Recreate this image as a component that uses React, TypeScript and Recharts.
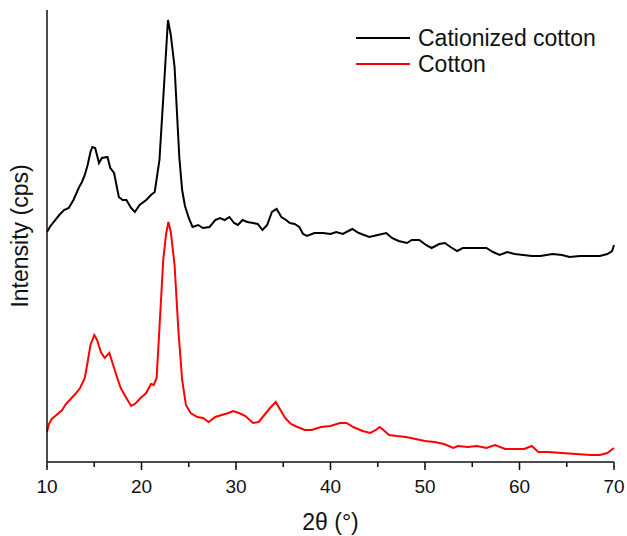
import React from 'react';
import { LineChart, Line, XAxis, YAxis, Legend, Label } from 'recharts';

// 2θ positions and intensities (arbitrary units)
const cationizedTheta = [10.0, 10.3, 10.7, 11.3, 11.8, 12.3, 12.8, 13.4, 13.7, 14.0, 14.3, 14.6, 14.8, 15.1, 15.5, 15.8, 16.4, 16.7, 17.1, 17.6, 18.0, 18.4, 18.9, 19.3, 19.8, 20.5, 21.0, 21.4, 21.9, 22.4, 22.8, 23.1, 23.5, 24.0, 24.3, 24.6, 25.0, 25.4, 26.0, 26.5, 27.2, 27.8, 28.3, 28.8, 29.3, 29.8, 30.2, 30.7, 31.2, 31.8, 32.3, 32.8, 33.3, 33.8, 34.3, 34.8, 35.3, 35.7, 36.2, 36.7, 37.1, 37.5, 38.3, 39.2, 40.0, 40.6, 41.3, 42.3, 43.0, 44.1, 45.0, 45.9, 46.5, 47.2, 48.1, 48.6, 49.4, 50.1, 50.7, 51.5, 52.1, 52.7, 53.4, 54.0, 55.1, 56.5, 57.2, 57.9, 58.7, 59.5, 60.4, 61.3, 62.2, 63.5, 64.5, 65.3, 66.4, 67.5, 68.5, 69.3, 69.8, 70.0];
const cationizedIntensity = [228, 233, 238, 245, 250, 252, 260, 273, 278, 285, 295, 308, 313, 312, 297, 302, 303, 292, 287, 263, 260, 260, 252, 248, 255, 260, 265, 268, 300, 377, 440, 425, 393, 303, 270, 254, 242, 233, 235, 232, 233, 240, 242, 240, 243, 237, 235, 240, 238, 237, 236, 230, 235, 248, 251, 243, 240, 237, 236, 233, 226, 224, 227, 227, 226, 228, 226, 231, 227, 223, 225, 227, 222, 219, 217, 220, 220, 215, 212, 216, 217, 213, 209, 212, 212, 212, 208, 205, 208, 206, 205, 204, 204, 206, 205, 203, 204, 204, 204, 206, 209, 215];

const cottonTheta = [10.0, 10.2, 10.5, 11.0, 11.6, 12.0, 12.6, 13.0, 13.5, 14.0, 14.3, 14.6, 15.0, 15.3, 15.7, 16.1, 16.6, 16.9, 17.3, 17.8, 18.4, 18.9, 19.3, 19.9, 20.5, 21.0, 21.3, 21.6, 21.9, 22.3, 22.6, 22.85, 23.1, 23.5, 23.9, 24.3, 24.7, 25.2, 25.9, 26.5, 27.1, 27.8, 28.5, 29.2, 29.7, 30.3, 31.0, 31.8, 32.4, 33.0, 33.6, 34.2, 34.7, 35.2, 35.8, 36.5, 37.3, 38.0, 39.0, 40.0, 41.0, 41.7, 42.4, 43.4, 44.2, 44.8, 45.2, 45.6, 46.2, 47.0, 48.0, 49.0, 50.0, 51.0, 52.0, 53.0, 53.5, 54.5, 55.5, 56.5, 57.4, 58.5, 59.5, 60.5, 61.3, 62.0, 63.0, 64.5, 66.0, 67.5, 68.5, 69.3, 70.0];
const cottonIntensity = [28, 36, 41, 45, 50, 56, 62, 66, 72, 82, 98, 115, 125, 120, 108, 102, 107, 98, 86, 72, 62, 54, 56, 62, 67, 76, 75, 82, 132, 200, 226, 238, 228, 195, 130, 80, 55, 47, 43, 42, 38, 43, 45, 47, 49, 47, 44, 37, 38, 45, 52, 58, 50, 42, 36, 33, 30, 30, 33, 34, 37, 37, 33, 29, 27, 30, 33, 30, 25, 24, 23, 21, 19, 18, 16, 12, 14, 13, 14, 12, 15, 11, 11, 11, 14, 8, 8, 7, 6, 5, 5, 7, 12];

const xTicks = [10, 15, 20, 25, 30, 35, 40, 45, 50, 55, 60, 65, 70];

const cationizedData = cationizedTheta.map((t, i) => ({ t, v: cationizedIntensity[i] }));
const cottonData = cottonTheta.map((t, i) => ({ t, v: cottonIntensity[i] }));

const FONT = '"Liberation Sans", Arial, sans-serif';

// built-in tick line is 5px (minor); majors get an extra stub and a label
const XTick = (props: any) => {
  const { x, y, payload } = props;
  const major = payload.value % 10 === 0;
  if (!major) return <g />;
  return (
    <g>
      <line x1={x} x2={x} y1={y - 1} y2={y + 3} stroke="#111" strokeWidth={1.5} />
      <text x={x} y={y + 26} textAnchor="middle" fontSize={19} fontFamily={FONT} fill="#111">
        {payload.value}
      </text>
    </g>
  );
};

const LegendBox = () => (
  <div style={{ fontFamily: FONT, fontSize: 23, color: '#111', lineHeight: '26px' }}>
    <div style={{ display: 'flex', alignItems: 'center' }}>
      <span style={{ width: 54, height: 2, background: '#000', marginRight: 8 }}></span>
      Cationized cotton
    </div>
    <div style={{ display: 'flex', alignItems: 'center' }}>
      <span style={{ width: 54, height: 2, background: '#ff0000', marginRight: 8 }}></span>
      Cotton
    </div>
  </div>
);

export default function App() {
  return (
    <div style={{ position: 'absolute', left: 0, top: 0, background: '#fff' }}>
      <LineChart width={627} height={536} margin={{ top: 10, right: 13, bottom: 0, left: 0 }}>
        <XAxis
          type="number"
          dataKey="t"
          domain={[10, 70]}
          ticks={xTicks}
          interval={0}
          allowDuplicatedCategory={false}
          tick={<XTick />}
          tickLine={{ stroke: '#111', strokeWidth: 1.5 }}
          tickSize={5}
          tickMargin={0}
          height={74}
          axisLine={{ stroke: '#111', strokeWidth: 1.5 }}
        >
          <Label value="2θ (°)" position="insideBottom" offset={6} fontSize={23} fontFamily={FONT} fill="#111" />
        </XAxis>
        <YAxis
          type="number"
          domain={[-2, 450]}
          tick={false}
          tickLine={false}
          width={47}
          axisLine={{ stroke: '#111', strokeWidth: 1.5 }}
        >
          <Label value="Intensity (cps)" angle={-90} position="center" dx={-4} fontSize={23} fontFamily={FONT} fill="#111" />
        </YAxis>
        <Legend
          layout="vertical"
          verticalAlign="middle"
          align="center"
          content={<LegendBox />}
          wrapperStyle={{ top: 25, left: 356, width: 270 }}
        />
        <Line data={cationizedData} dataKey="v" type="linear" stroke="#000000" strokeWidth={2} dot={false} isAnimationActive={false} />
        <Line data={cottonData} dataKey="v" type="linear" stroke="#ff0000" strokeWidth={2} dot={false} isAnimationActive={false} />
      </LineChart>
    </div>
  );
}
